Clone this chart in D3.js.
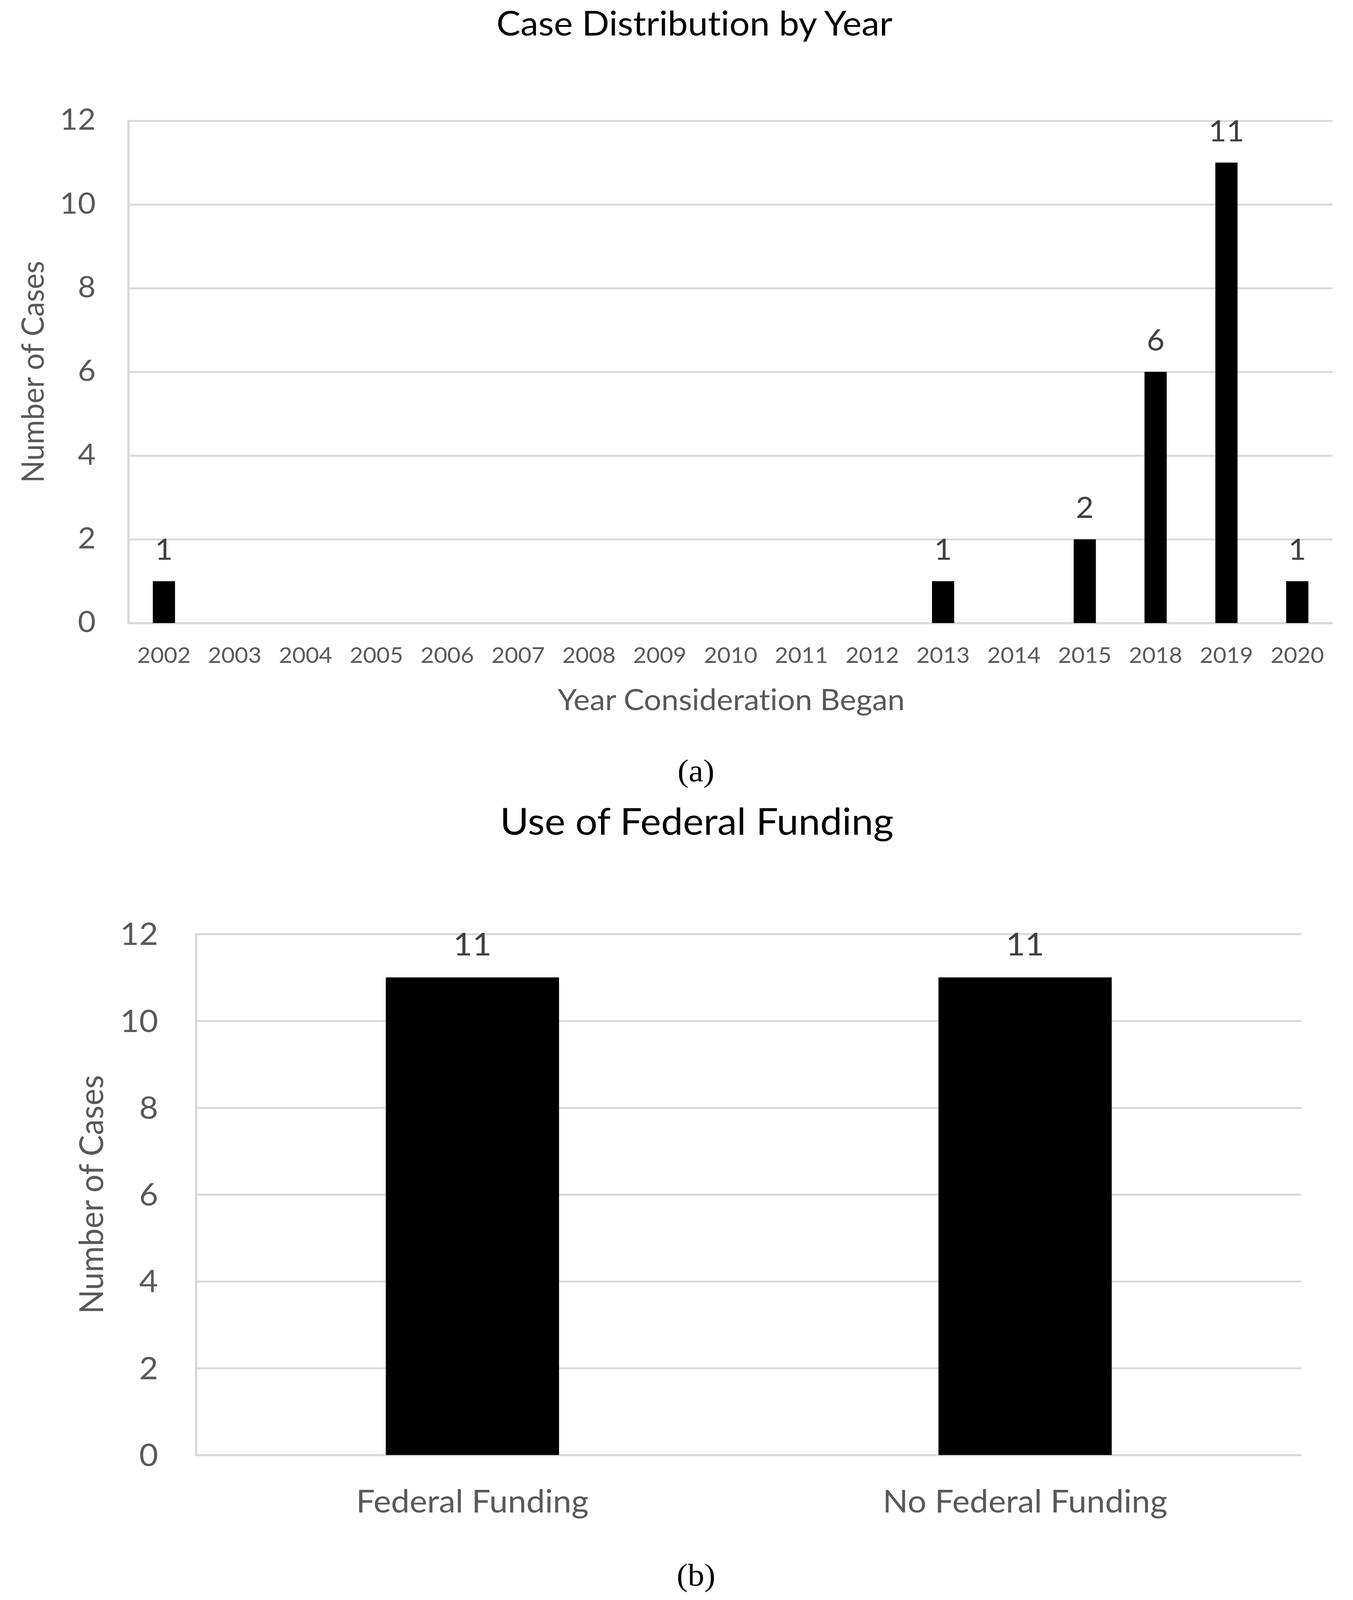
<!DOCTYPE html>
<html>
<head>
<meta charset="utf-8">
<script src="https://cdn.jsdelivr.net/npm/d3@7"></script>
<style>
  html, body { margin: 0; padding: 0; background: #fff; overflow: hidden; }
  svg { display: block; }
  text { font-family: "Lato", "Open Sans", sans-serif; font-variant-ligatures: none; font-feature-settings: "liga" 0, "clig" 0; }
</style>
</head>
<body>
<script>
// ---------- data ----------
const yearCategories = ["2002","2003","2004","2005","2006","2007","2008","2009","2010","2011","2012","2013","2014","2015","2018","2019","2020"];
const yearCounts     = [1,0,0,0,0,0,0,0,0,0,0,1,0,2,6,11,1];
const fundingCategories = ["Federal Funding", "No Federal Funding"];
const fundingCounts     = [11, 11];
const yTickValues = [0, 2, 4, 6, 8, 10, 12];
const titleA = "Case Distribution by Year";
const titleB = "Use of Federal Funding";
const xTitleA = "Year Consideration Began";
const yTitle = "Number of Cases";
const captionA = "(a)";
const captionB = "(b)";

// ---------- canvas ----------
const W = 3464, H = 4281;
const vw = window.innerWidth || W, vh = window.innerHeight || H;
const svg = d3.select("body").append("svg")
  .attr("width", vw).attr("height", vh)
  .attr("viewBox", `0 0 ${W} ${H}`)
  .attr("preserveAspectRatio", "none");
svg.append("rect").attr("width", W).attr("height", H).attr("fill", "#fff");

const GRID = "#d9d9d9", TICK = "#595959", LABEL = "#404040";
const GAP = 2.19; // Excel gap width 219%
const pInner = GAP / (1 + GAP), pOuter = pInner / 2;

function drawChart(cfg) {
  const x = d3.scaleBand().domain(cfg.cats).range([cfg.x0, cfg.x1])
    .paddingInner(pInner).paddingOuter(pOuter);
  const y = d3.scaleLinear().domain([0, 12]).range([cfg.y0, cfg.yTop]);

  // gridlines + y tick labels
  const gy = svg.append("g").attr("transform", `translate(${cfg.x0},0)`)
    .call(d3.axisLeft(y).tickValues(yTickValues).tickFormat(d3.format("d"))
      .tickSize(-(cfg.x1 - cfg.x0)).tickPadding(cfg.x0 - cfg.yLabelRight));
  gy.select(".domain").remove();
  gy.selectAll(".tick line").attr("stroke", GRID).attr("stroke-width", 5);
  gy.selectAll(".tick text").attr("fill", TICK).attr("font-size", cfg.yTickSize)
    .attr("dy", 0).attr("y", cfg.yTickDy).style("font-family", "Lato");

  // left axis line
  svg.append("line").attr("x1", cfg.x0).attr("x2", cfg.x0)
    .attr("y1", cfg.yTop - 2).attr("y2", cfg.y0 + 3)
    .attr("stroke", GRID).attr("stroke-width", 6);

  // x axis labels
  const gx = svg.append("g").attr("transform", `translate(0,${cfg.y0})`)
    .call(d3.axisBottom(x).tickSize(0));
  gx.select(".domain").attr("stroke", GRID).attr("stroke-width", 6);
  gx.selectAll(".tick text").attr("fill", TICK).attr("font-size", cfg.xTickSize)
    .attr("dy", 0).attr("y", cfg.xTickBase - cfg.y0).style("font-family", "Lato");

  // bars
  const data = cfg.cats.map((c, i) => ({ c, v: cfg.vals[i] }));
  svg.append("g").selectAll("rect").data(data.filter(d => d.v > 0)).join("rect")
    .attr("x", d => x(d.c)).attr("width", x.bandwidth())
    .attr("y", d => y(d.v)).attr("height", d => y(0) - y(d.v))
    .attr("fill", "#000");

  // data labels
  svg.append("g").selectAll("text").data(data.filter(d => d.v > 0)).join("text")
    .attr("x", d => x(d.c) + x.bandwidth() / 2)
    .attr("y", d => y(d.v) - cfg.labelGap)
    .attr("text-anchor", "middle").attr("fill", LABEL)
    .attr("font-size", cfg.labelSize).text(d => d.v);

  // title
  svg.append("text").attr("x", cfg.titleX).attr("y", cfg.titleBase)
    .attr("text-anchor", "middle").attr("fill", "#000")
    .attr("font-size", cfg.titleSize).text(cfg.title);

  // y axis title
  svg.append("text")
    .attr("transform", `translate(${cfg.yTitleX},${(cfg.y0 + cfg.yTop) / 2}) rotate(-90)`)
    .attr("text-anchor", "middle").attr("fill", TICK)
    .attr("font-size", cfg.axisTitleSize).text(yTitle);

  // x axis title
  if (cfg.xTitle) {
    svg.append("text").attr("x", cfg.xTitleX).attr("y", cfg.xTitleBase)
      .attr("text-anchor", "middle").attr("fill", TICK)
      .attr("font-size", cfg.axisTitleSize).text(cfg.xTitle);
  }

  // caption
  svg.append("text").attr("x", cfg.capX).attr("y", cfg.capBase)
    .attr("text-anchor", "middle").attr("fill", "#000")
    .style("font-family", "'Liberation Serif', 'Times New Roman', serif")
    .attr("font-size", 85).text(cfg.caption);
}

drawChart({
  cats: yearCategories, vals: yearCounts,
  x0: 329, x1: 3412, yTop: 323, y0: 1667,
  yLabelRight: 245, yTickDy: 24, yTickSize: 79,
  xTickBase: 1774, xTickSize: 59,
  labelGap: 57, labelSize: 79,
  title: titleA, titleX: 1778, titleBase: 95, titleSize: 92,
  yTitleX: 112, axisTitleSize: 79,
  xTitle: xTitleA, xTitleX: 1872, xTitleBase: 1900,
  caption: captionA, capX: 1782, capBase: 2090
});

drawChart({
  cats: fundingCategories, vals: fundingCounts,
  x0: 502, x1: 3332, yTop: 2499, y0: 3893,
  yLabelRight: 405, yTickDy: 29, yTickSize: 84,
  xTickBase: 4047, xTickSize: 85,
  labelGap: 59, labelSize: 85,
  title: titleB, titleX: 1784, titleBase: 2233, titleSize: 100,
  yTitleX: 264, axisTitleSize: 85,
  xTitle: null,
  caption: captionB, capX: 1782, capBase: 4242
});
</script>
</body>
</html>
